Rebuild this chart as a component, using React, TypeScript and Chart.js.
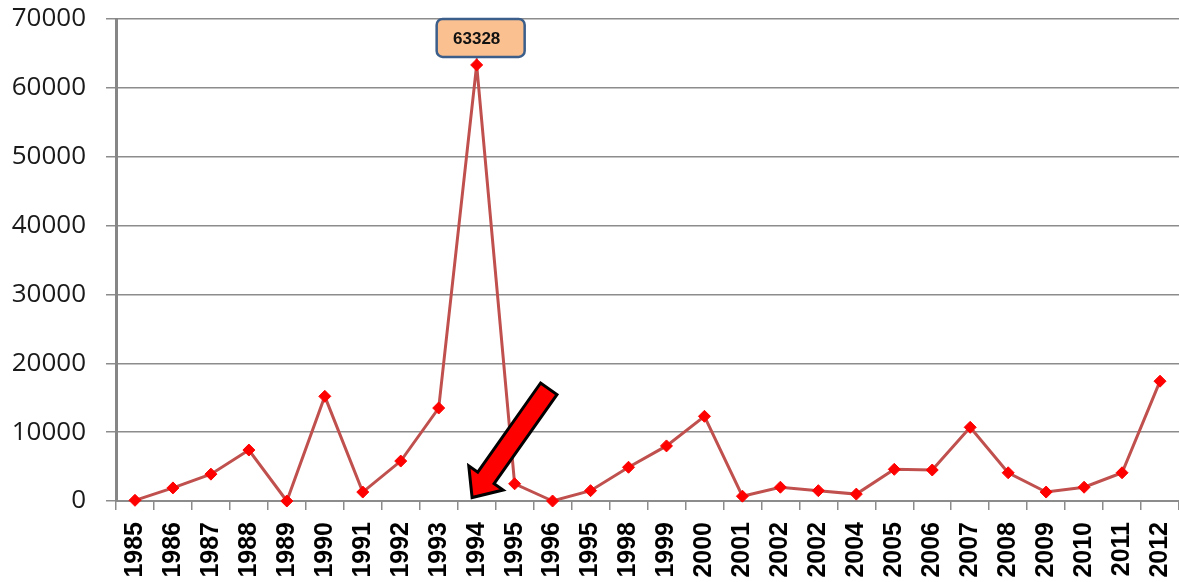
import React, { useEffect, useRef } from "react";
import { Chart, registerables } from "chart.js";

Chart.register(...registerables);

const years: string[] = [
  "1985", "1986", "1987", "1988", "1989", "1990", "1991", "1992", "1993", "1994",
  "1995", "1996", "1995", "1998", "1999", "2000", "2001", "2002", "2002", "2004",
  "2005", "2006", "2007", "2008", "2009", "2010", "2011", "2012",
];

const values: number[] = [
  100, 1900, 3900, 7400, 0, 15200, 1300, 5800, 13500, 63328,
  2500, 0, 1500, 4900, 8000, 12300, 700, 2000, 1500, 1000,
  4600, 4500, 10700, 4100, 1300, 2000, 4100, 17400,
];

const yTicks: number[] = [0, 10000, 20000, 30000, 40000, 50000, 60000, 70000];

const calloutIndex = 9;
const calloutText = "63328";

// arrow anchors in data terms (category index, value)
const arrowTip = { index: 8.88, value: 500 };
const arrowTail = { index: 10.9, value: 16300 };

const overlayPlugin = {
  id: "overlay",
  afterDatasetsDraw(chart: any) {
    const { ctx, scales } = chart;
    const xs = scales.x;
    const ys = scales.y;

    // callout box
    const px = xs.getPixelForValue(calloutIndex);
    const py = ys.getPixelForValue(values[calloutIndex]);
    const bw = 88;
    const bh = 38;
    const bx = px + 4 - bw / 2;
    const by = py - 8 - bh;
    ctx.save();
    ctx.beginPath();
    ctx.roundRect(bx, by, bw, bh, 6);
    ctx.fillStyle = "#FAC090";
    ctx.fill();
    ctx.lineWidth = 2.5;
    ctx.strokeStyle = "#3B5E8A";
    ctx.stroke();
    ctx.fillStyle = "#111";
    ctx.font = "bold 17px 'Liberation Sans', Arial, sans-serif";
    ctx.textAlign = "center";
    ctx.textBaseline = "middle";
    ctx.fillText(calloutText, bx + bw / 2 - 4, by + bh / 2 + 1);
    ctx.restore();

    // arrow
    const tx = xs.getPixelForValue(arrowTip.index);
    const ty = ys.getPixelForValue(arrowTip.value);
    const sx = xs.getPixelForValue(arrowTail.index);
    const sy = ys.getPixelForValue(arrowTail.value);
    const dx = tx - sx;
    const dy = ty - sy;
    const len = Math.hypot(dx, dy);
    const ux = dx / len;
    const uy = dy / len;
    const nx = -uy;
    const ny = ux;
    const shaftW = 20;
    const headW = 42;
    const headL = 24;
    const bxp = tx - ux * headL;
    const byp = ty - uy * headL;
    const pts = [
      [sx + nx * shaftW / 2, sy + ny * shaftW / 2],
      [bxp + nx * shaftW / 2, byp + ny * shaftW / 2],
      [bxp + nx * headW / 2, byp + ny * headW / 2],
      [tx, ty],
      [bxp - nx * headW / 2, byp - ny * headW / 2],
      [bxp - nx * shaftW / 2, byp - ny * shaftW / 2],
      [sx - nx * shaftW / 2, sy - ny * shaftW / 2],
    ];
    ctx.save();
    ctx.beginPath();
    ctx.moveTo(pts[0][0], pts[0][1]);
    for (let i = 1; i < pts.length; i++) ctx.lineTo(pts[i][0], pts[i][1]);
    ctx.closePath();
    ctx.fillStyle = "#FF0000";
    ctx.fill();
    ctx.lineWidth = 3;
    ctx.lineJoin = "miter";
    ctx.strokeStyle = "#000";
    ctx.stroke();
    ctx.restore();
  },
};

export default function App() {
  const ref = useRef<HTMLCanvasElement | null>(null);

  useEffect(() => {
    document.body.style.margin = "0";
    const canvas = ref.current;
    if (!canvas) return;
    const chart = new Chart(canvas, {
      type: "line",
      data: {
        labels: years,
        datasets: [
          {
            data: values,
            borderColor: "#C0504D",
            borderWidth: 3,
            pointStyle: "rectRot",
            pointRadius: 6,
            pointBackgroundColor: "#FF0000",
            pointBorderColor: "#FF0000",
            pointBorderWidth: 1,
            tension: 0,
            clip: false,
          },
        ],
      },
      options: {
        animation: false,
        responsive: false,
        devicePixelRatio: 1,
        layout: { autoPadding: false, padding: { top: 19, right: 0, left: 0, bottom: 0 } },
        plugins: {
          legend: { display: false },
          tooltip: { enabled: false },
        },
        scales: {
          x: {
            offset: true,
            grid: {
              display: true,
              offset: true,
              drawOnChartArea: false,
              drawTicks: true,
              tickLength: 9,
              color: "#8C8C8C",
              lineWidth: 1.5,
            },
            border: { display: true, color: "#8C8C8C", width: 2 },
            ticks: {
              autoSkip: false,
              minRotation: 90,
              maxRotation: 90,
              padding: 12,
              color: "#000",
              font: { family: "'Liberation Sans', Arial, sans-serif", size: 25, weight: "bold" },
            },
            afterFit(scale: any) {
              scale.height = 81;
              scale.paddingLeft = 0;
              scale.paddingRight = 0;
            },
          },
          y: {
            min: 0,
            max: 70000,
            afterBuildTicks(scale: any) {
              scale.ticks = yTicks.map((v) => ({ value: v }));
            },
            grid: {
              color: "#8C8C8C",
              lineWidth: 1.5,
              tickLength: 10,
            },
            border: { display: true, color: "#868686", width: 3 },
            ticks: {
              padding: 20,
              color: "#1a1a1a",
              font: { family: "'Open Sans', 'Liberation Sans', sans-serif", size: 26 },
              callback: (v: any) => String(v),
            },
            afterFit(scale: any) {
              scale.width = 116;
              scale.paddingTop = 0;
              scale.paddingBottom = 0;
            },
          },
        },
      },
      plugins: [overlayPlugin],
    });
    return () => chart.destroy();
  }, []);

  return (
    <div style={{ position: "fixed", left: 0, top: 0, width: 1179, height: 582, background: "#fff" }}>
      <canvas ref={ref} width={1179} height={582} style={{ width: 1179, height: 582, display: "block" }} />
    </div>
  );
}
